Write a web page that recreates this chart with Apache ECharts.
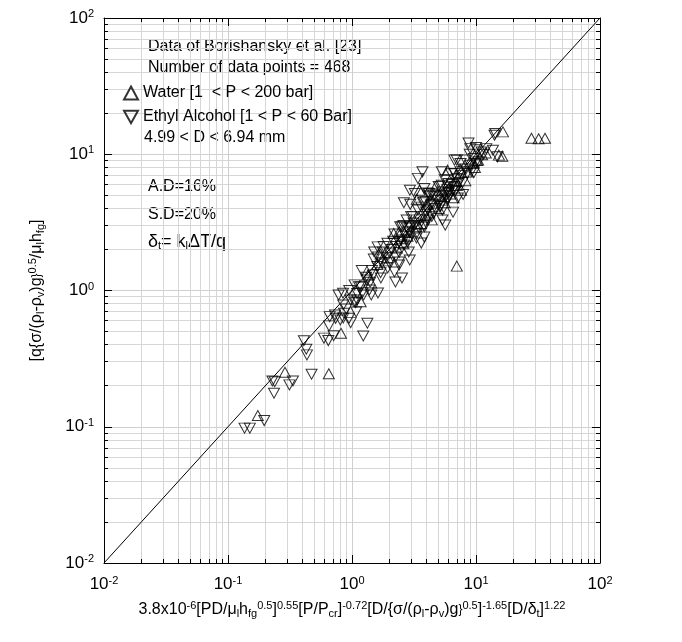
<!DOCTYPE html>
<html><head><meta charset="utf-8">
<script src="https://cdn.jsdelivr.net/npm/echarts@6/dist/echarts.min.js"></script>
<style>html,body{margin:0;padding:0;background:#fff}#c{width:682px;height:642px}</style>
</head><body><div id="c"></div>
<script>
// Water (up triangles)
const waterX = [0.174,0.288,0.650,0.815,1.175,1.43,7.0,
 16.5,28,32,36,15.3,16.3,10.4,5.9,
 3.5,4.71,7.59,3.33,4.75,2.17,3.3,
 1.6,2.3,2.8,3.9,4.4,5.6,6.2,7.0,8.2,9.8,11.2,3.0,2.5,1.95,6.6,5.0,
 1.35,1.85,2.6,3.6,4.2,5.5,6.9,8.6,10.2,12.0,4.0,2.4,1.7,7.4,9.5];
const waterY = [0.121,0.251,0.245,0.486,0.828,1.135,1.51,
 14.6,13.1,13.0,13.1,9.85,9.68,9.06,7.64,
 5.45,5.77,5.45,4.67,4.93,2.62,2.94,
 1.55,2.05,2.5,3.6,3.3,4.4,5.1,5.9,6.4,8.0,9.9,2.7,2.4,1.75,4.8,4.0,
 1.3,1.65,2.2,3.1,3.7,4.9,6.3,7.4,9.0,10.2,4.3,2.7,1.85,7.8,8.6];
// Ethyl alcohol (down triangles)
const ethX = [0.136,0.150,0.196,0.228,0.238,0.235,0.313,0.334,0.472,0.409,0.428,0.433,0.594,0.644,0.711,0.653,0.661,0.738,0.805,0.863,0.946,0.975,1.233,0.847,0.975,1.072,1.14,1.213,1.33,
 0.73,0.78,0.85,0.90,0.85,1.04,1.10,1.08,1.18,1.24,1.38,1.43,1.62,1.31,1.48,1.71,2.24,2.2,2.53,2.4,1.94,1.51,1.62,1.77,2.01,2.24,2.4,2.92,2.87,2.4,2.63,2.87,2.92,3.31,3.62,3.83,2.53,2.77,3.14,3.43,3.83,4.1,3.62,3.96,4.33,4.56,5.36,5.36,5.65,4.1,4.56,5.36,5.97,6.53,7.14,5.87,6.53,
 14.3,14.1,8.7,9.0,10.1,11.1,12.1,13.7,14.9,7.0,6.7,7.5,8.2,9.6,9.9,3.7,3.4,5.3,6.7,7.5,8.5,9.6,
 2.93,3.21,3.83,4.19,5.3,5.98,6.73,7.87,2.62,2.95,3.74,4.22,5.2,5.68,6.03,1.61,1.93,2.45,2.76,3.1,2.94,
 1.3,1.45,1.6,1.75,1.9,2.1,2.3,2.5,2.7,2.9,3.2,3.5,3.8,4.1,4.5,4.9,5.4,5.9,6.4,7.0,7.6,8.3,9.0,
 1.2,1.5,1.8,2.2,2.6,3.0,3.4,3.9,4.4,5.0,5.6,6.3,
 1.4,1.7,2.0,2.4,2.8,3.3,3.8,4.4,5.1,5.9,6.8,7.8,9.2,10.5,11.5,10.0,8.9,1.05,0.95,1.1,2.15,4.7,5.2,6.0,7.2];
const ethY = [0.0977,0.0977,0.111,0.217,0.214,0.176,0.203,0.217,0.243,0.428,0.371,0.337,0.447,0.429,0.466,0.55,0.643,0.625,0.608,0.681,0.625,0.581,0.464,0.954,0.852,0.814,1.066,0.963,0.575,
 0.661,0.927,0.783,0.731,0.629,0.824,0.852,0.695,1.06,0.927,1.009,0.927,0.959,1.194,1.3,1.235,1.154,1.367,1.235,1.538,1.462,1.915,1.761,1.915,1.883,1.761,1.618,1.673,1.915,2.27,2.158,2.346,2.64,2.427,2.229,2.467,2.923,2.873,3.126,2.923,2.923,3.289,4.093,3.764,4.24,3.697,3.89,3.289,3.02,5.19,5.01,5.28,5.74,5.45,4.77,4.6,3.76,
 14.2,13.8,12.1,11.0,10.8,10.4,11.0,10.7,9.57,9.06,9.06,8.55,9.06,9.31,8.55,7.43,6.65,7.43,7.23,7.43,7.23,7.31,
 5.45,5.16,5.61,5.16,5.93,6.11,5.77,5.07,4.41,4.29,4.41,4.93,4.17,4.93,5.21,2.09,2.22,2.94,3.29,3.48,2.94,
 1.25,1.4,1.5,1.6,1.75,2.0,2.1,2.35,2.5,2.7,3.0,3.3,3.5,3.9,4.3,4.6,5.0,5.5,6.0,6.6,7.0,7.8,8.3,
 1.4,1.7,2.1,2.6,3.0,3.5,3.9,4.5,5.1,5.8,6.5,7.2,
 1.15,1.35,1.6,1.9,2.25,2.6,3.0,3.5,4.1,4.7,5.4,6.2,7.5,8.8,10.0,11.2,10.0,1.1,1.0,0.95,2.3,4.0,4.6,5.2,6.1];
const diagLine = [[0.01,0.01],[100,100]];

const FONT = 'Liberation Sans, Arial, sans-serif';
function zip(a,b){return a.map((v,i)=>[v,b[i]]);}
const supLab = v => { const p = Math.round(Math.log10(v)); return '{b|10}{s|' + p + '}'; };
const rich = { b:{fontSize:17,fontFamily:FONT,color:'#000'}, s:{fontSize:11,fontFamily:FONT,color:'#000',verticalAlign:'top',padding:[0,0,8,0]} };
const titleRich = {t:{fontSize:16,fontFamily:FONT,color:'#000'},s:{fontSize:11,fontFamily:FONT,color:'#000',verticalAlign:'top',padding:[0,0,8,0]},u:{fontSize:11,fontFamily:FONT,color:'#000',verticalAlign:'bottom',padding:[8,0,0,0]}};
const downTri = 'path://M0,0 L10,0 L5,9 Z';
const axisBase = (extra) => Object.assign({type:'log',logBase:10,min:0.01,max:100,
    axisLine:{show:true,onZero:false,lineStyle:{color:'#000',width:1}},
    axisTick:{show:true,inside:true,length:8,lineStyle:{color:'#000'}},
    minorTick:{show:true,splitNumber:9,length:4,lineStyle:{color:'#000'}}}, extra);

const chart = echarts.init(document.getElementById('c'));
chart.setOption({
  animation:false,
  backgroundColor:'#fff',
  grid:{left:104,right:82,top:18,bottom:79},
  xAxis:[axisBase({
    splitLine:{show:true,lineStyle:{color:'#cfcfcf',width:1}},
    minorSplitLine:{show:true,lineStyle:{color:'#d6d6d6',width:1}},
    axisLabel:{formatter:supLab,rich:rich,margin:12},
    name:'{t|3.8x10}{s|-6}{t|[PD/μ}{u|l}{t|h}{u|fg}{s|0.5}{t|]}{s|0.55}{t|[P/P}{u|cr}{t|]}{s|-0.72}{t|[D/{σ/(ρ}{u|l}{t|-ρ}{u|v}{t|)g}}{s|0.5}{t|]}{s|-1.65}{t|[D/δ}{u|t}{t|]}{s|1.22}',
    nameLocation:'middle',nameGap:37,nameTextStyle:{rich:titleRich}
  }), axisBase({position:'top',axisLabel:{show:false},splitLine:{show:false}})],
  yAxis:[axisBase({
    splitLine:{show:true,lineStyle:{color:'#cfcfcf',width:1}},
    minorSplitLine:{show:true,lineStyle:{color:'#d6d6d6',width:1}},
    axisLabel:{formatter:supLab,rich:rich,margin:10},
    name:'{t|[q{σ/(ρ}{u|l}{t|-ρ}{u|v}{t|)g}}{s|0.5}{t|/μ}{u|l}{t|h}{u|fg}{t|]}',
    nameLocation:'middle',nameGap:58,nameRotate:90,nameTextStyle:{rich:titleRich}
  }), axisBase({position:'right',axisLabel:{show:false},splitLine:{show:false}})],
  legend:{orient:'vertical',left:118,top:80,itemGap:8,itemWidth:14,itemHeight:13,
    textStyle:{fontSize:16,fontFamily:FONT,color:'#000'},
    data:[{name:'Water [1  < P < 200 bar]',icon:'triangle'},{name:'Ethyl Alcohol [1 < P < 60 Bar]',icon:downTri}]},
  graphic:[
    {type:'text',left:148,top:36,style:{text:'Data of Borishansky et al. [23]\nNumber of data points = 468',font:'16px '+FONT,fill:'#000',lineHeight:21}},
    {type:'text',left:144,top:130,style:{text:'4.99 < D < 6.94 mm',font:'16px '+FONT,fill:'#000'}},
    {type:'text',left:148,top:179,style:{text:'A.D=16%',font:'16px '+FONT,fill:'#000'}},
    {type:'text',left:148,top:207,style:{text:'S.D=20%',font:'16px '+FONT,fill:'#000'}},
    {type:'text',left:148,top:233,style:{text:'{t|δ}{u|t}{t|= k}{u|l}{t|ΔT/q}',rich:{t:{fontSize:18,fontFamily:FONT,fill:'#000'},u:{fontSize:11,fontFamily:FONT,fill:'#000',verticalAlign:'bottom',padding:[8,0,0,0]}}}}
  ],
  series:[
    {name:'diag',type:'line',data:diagLine,showSymbol:false,silent:true,lineStyle:{color:'#000',width:1},z:3},
    {name:'Water [1  < P < 200 bar]',type:'scatter',data:zip(waterX,waterY),symbol:'triangle',symbolSize:[11,10],
      itemStyle:{color:'rgba(255,255,255,0)',borderColor:'#000',borderWidth:1},z:4},
    {name:'Ethyl Alcohol [1 < P < 60 Bar]',type:'scatter',data:zip(ethX,ethY),symbol:downTri,symbolSize:[11,10],
      itemStyle:{color:'rgba(255,255,255,0)',borderColor:'#000',borderWidth:1},z:4}
  ]
});
</script></body></html>
